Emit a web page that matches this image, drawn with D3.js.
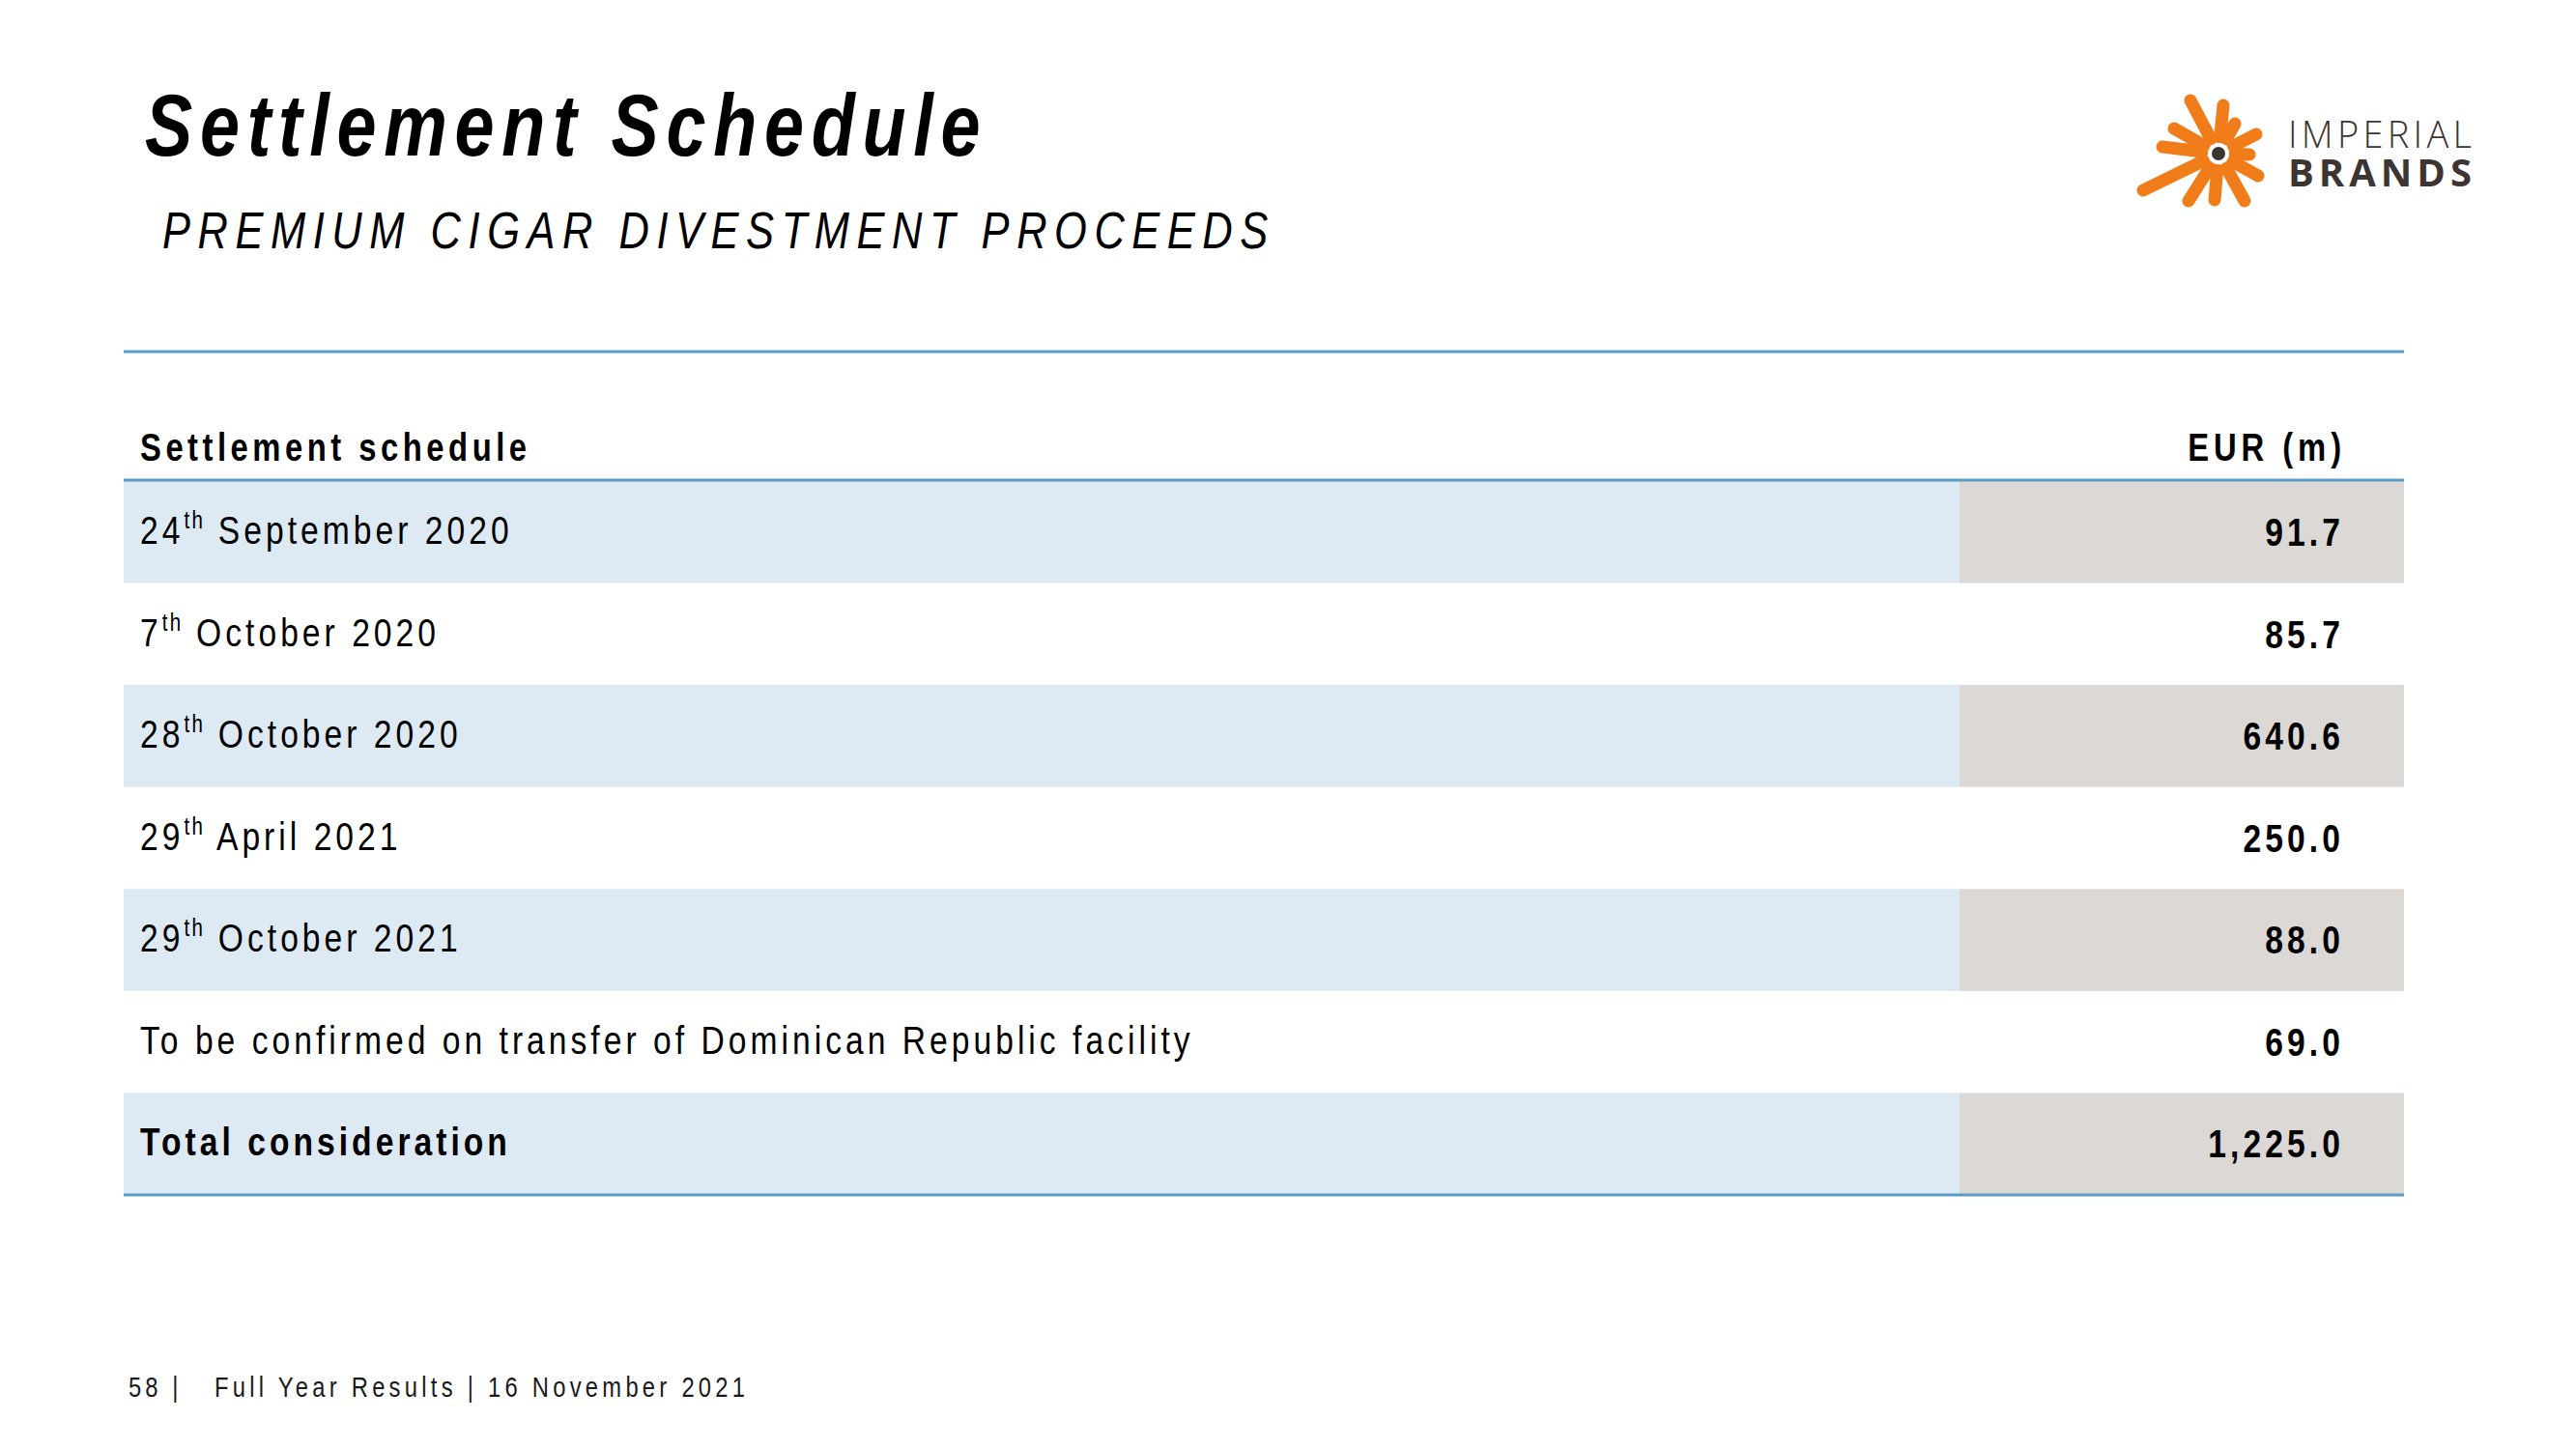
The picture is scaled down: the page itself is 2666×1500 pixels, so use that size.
<!DOCTYPE html>
<html>
<head>
<meta charset="utf-8">
<script src="https://cdn.jsdelivr.net/npm/d3@7"></script>
<style>
  body { margin: 0; background: #fff; }
  svg text { font-family: "Liberation Sans", Arial, sans-serif; fill: #000; }
</style>
</head>
<body>
<div id="slide"></div>
<script>
// slide size
var svgWidth = 2666;
var svgHeight = 1500;

// table data
var rowLabels = [
  "24th September 2020",
  "7th October 2020",
  "28th October 2020",
  "29th April 2021",
  "29th October 2021",
  "To be confirmed on transfer of Dominican Republic facility",
  "Total consideration"
];
var values = [91.7, 85.7, 640.6, 250.0, 88.0, 69.0, 1225.0];
var headers = ["Settlement schedule", "EUR (m)"];

var titleText = "Settlement Schedule";
var subtitleText = "PREMIUM CIGAR DIVESTMENT PROCEEDS";
var pageNumber = "58 |";
var footerText = "Full Year Results | 16 November 2021";

var ruleColor = "#5b9bc7";
var bandColor = "#dde9f3";
var greyColor = "#dbd8d5";

// no narrow face installed, so squeeze the regular one
var narrow = 0.82;

var table = { left: 128, right: 2488, valueLeft: 2028, top: 364, head: 497, bottom: 1237 };

var svg = d3.select("#slide")
  .append("svg")
  .attr("width", svgWidth)
  .attr("height", svgHeight);

function narrowText(parent, x, y) {
  return parent.append("text")
    .attr("transform", `translate(${x}, ${y}) scale(${narrow}, 1)`);
}

// Title + subtitle
narrowText(svg, 150, 161)
  .style("font-size", "90px")
  .style("font-weight", "bold")
  .style("font-style", "italic")
  .style("letter-spacing", "9.4px")
  .text(titleText);

narrowText(svg, 168, 257)
  .style("font-size", "53px")
  .style("font-style", "italic")
  .style("letter-spacing", "9.2px")
  .text(subtitleText);

// Rows
var yScale = d3.scaleBand()
  .domain(d3.range(rowLabels.length))
  .range([table.head + 1, table.bottom]);

var fmt = d3.format(",.1f");

var rows = svg.append("g").selectAll("g")
  .data(rowLabels)
  .enter()
  .append("g")
  .attr("transform", (d, i) => `translate(0, ${yScale(i)})`);

rows.filter((d, i) => i % 2 === 0)
  .append("rect")
  .attr("x", table.left)
  .attr("width", table.valueLeft - table.left)
  .attr("height", yScale.bandwidth())
  .attr("fill", bandColor);

rows.filter((d, i) => i % 2 === 0)
  .append("rect")
  .attr("x", table.valueLeft)
  .attr("width", table.right - table.valueLeft)
  .attr("height", yScale.bandwidth())
  .attr("fill", greyColor);

// label with superscript ordinal
rows.each(function(d, i) {
  var t = narrowText(d3.select(this), 145, 65)
    .style("font-size", "41px")
    .style("letter-spacing", "4.9px")
    .style("font-weight", i === rowLabels.length - 1 ? "bold" : "normal");
  var m = d.match(/^(\d+)(st|nd|rd|th)(.*)$/);
  if (m) {
    t.append("tspan").text(m[1]);
    t.append("tspan").attr("dy", -16).style("font-size", "25px").style("letter-spacing", "3px").text(m[2]);
    t.append("tspan").attr("dy", 16).text(m[3]);
  } else {
    t.text(d);
  }

  narrowText(d3.select(this), 2426, 67)
    .attr("text-anchor", "end")
    .style("font-size", "41px")
    .style("font-weight", "bold")
    .style("letter-spacing", "5px")
    .text(fmt(values[i]));
});

// Header
narrowText(svg, 145, 477)
  .style("font-size", "40px")
  .style("font-weight", "bold")
  .style("letter-spacing", "5.5px")
  .text(headers[0]);

narrowText(svg, 2428, 477)
  .attr("text-anchor", "end")
  .style("font-size", "40px")
  .style("font-weight", "bold")
  .style("letter-spacing", "6px")
  .text(headers[1]);

// Rules
[table.top, table.head, table.bottom].forEach(function(y) {
  svg.append("line")
    .attr("x1", table.left)
    .attr("x2", table.right)
    .attr("y1", y)
    .attr("y2", y)
    .attr("stroke", ruleColor)
    .attr("stroke-width", 3);
});

// Footer
narrowText(svg, 133, 1446)
  .style("font-size", "29px")
  .style("letter-spacing", "5px")
  .style("fill", "#1a1a1a")
  .text(pageNumber);

narrowText(svg, 222, 1446)
  .style("font-size", "29px")
  .style("letter-spacing", "5.2px")
  .style("fill", "#1a1a1a")
  .text(footerText);

// Logo
var logo = svg.append("g").attr("transform", "translate(2296, 159)");
var rays = [[-29, -55], [5, -50], [17, -31], [39, -20], [32, 1], [41, 23], [27, 49], [-4, 48], [-31, 49], [-78, 38], [-58, -7], [-46, -26]];
logo.selectAll("line")
  .data(rays)
  .enter()
  .append("line")
  .attr("x1", d => d[0] * 17 / Math.hypot(d[0], d[1]))
  .attr("y1", d => d[1] * 17 / Math.hypot(d[0], d[1]))
  .attr("x2", d => d[0])
  .attr("y2", d => d[1])
  .attr("stroke", "#f07d19")
  .attr("stroke-width", 13)
  .attr("stroke-linecap", "round");
logo.append("circle").attr("r", 11).attr("fill", "#fff");
logo.append("circle").attr("r", 7).attr("fill", "#3e3431");

var brand = svg.append("text")
  .style("font-family", "'Open Sans', 'DejaVu Sans', sans-serif")
  .style("fill", "#3e3431");
brand.append("tspan")
  .attr("x", 2368)
  .attr("y", 153)
  .attr("textLength", 190)
  .style("font-size", "38px")
  .style("font-weight", 300)
  .text("IMPERIAL");
brand.append("tspan")
  .attr("x", 2368)
  .attr("y", 193)
  .attr("textLength", 190)
  .style("font-size", "40px")
  .style("font-weight", "bold")
  .text("BRANDS");
</script>
</body>
</html>
